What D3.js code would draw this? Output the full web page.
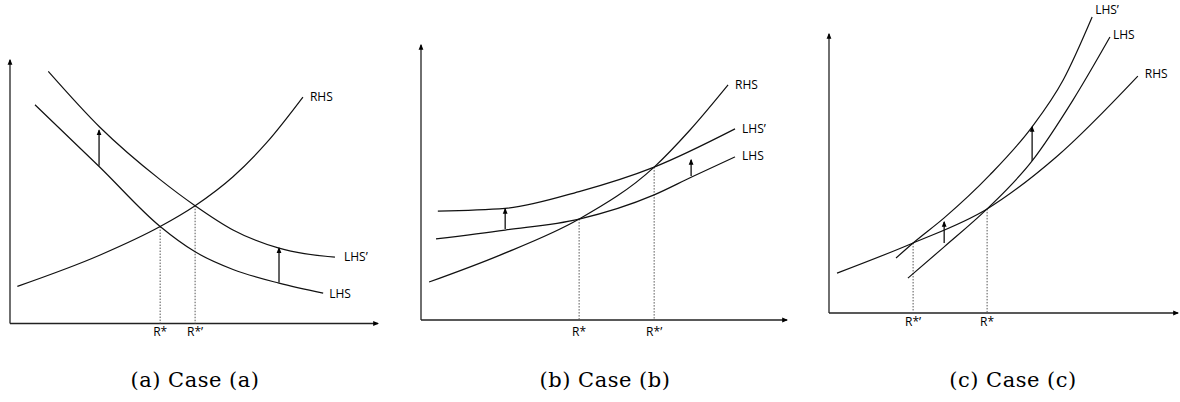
<!DOCTYPE html>
<html>
<head>
<meta charset="utf-8">
<script src="https://cdn.jsdelivr.net/npm/d3@7"></script>
<style>
  body { margin: 0; background: #fff; }
  svg { display: block; }
</style>
</head>
<body>
<svg id="chart" width="1180" height="402"></svg>
<script>
// curve points, in axis units (0-100 each way, origin at the axes corner)
const aRHS  = [[2.0, 14.1], [24.5, 26.0], [40.8, 36.8], [50.3, 44.7], [60.6, 55.7], [69.8, 68.7], [79.6, 85.9]];
const aLHS  = [[6.8, 83.0], [24.5, 59.2], [40.8, 36.8], [50.3, 27.2], [60.6, 20.5], [73.1, 15.3], [85.1, 11.5]];
const aLHS2 = [[10.4, 95.7], [24.5, 74.4], [40.8, 54.6], [50.3, 44.7], [60.6, 35.5], [73.1, 28.6], [80.0, 26.5], [88.3, 25.2]];
const aShifts = [[24.2, 59.9, 73.3], [73.1, 15.6, 28.6]];
const aEq = [[40.8, 36.8, "R*"], [50.3, 44.7, "R*\u2019"]];

const bRHS  = [[2.2, 13.8], [21.6, 23.6], [43.2, 36.7], [63.7, 55.6], [73.5, 69.1], [83.9, 85.5]];
const bLHS2 = [[4.6, 39.6], [23.0, 40.6], [43.2, 46.7], [63.7, 55.6], [85.8, 69.5]];
const bLHS  = [[4.1, 29.5], [23.0, 32.7], [43.2, 36.7], [63.7, 45.5], [73.8, 51.9], [85.8, 59.3]];
const bShifts = [[23.0, 33.1, 40.4], [73.8, 52.4, 58.2]];
const bEq = [[43.2, 36.7, "R*"], [63.7, 55.6, "R*\u2019"]];

const cRHS  = [[2.3, 14.3], [24.1, 25.1], [45.3, 37.3], [65.2, 56.0], [88.5, 84.9]];
const cLHS  = [[22.6, 12.5], [33.0, 23.7], [45.3, 37.3], [58.2, 54.5], [69.9, 76.3], [80.5, 98.9]];
const cLHS2 = [[19.2, 19.7], [24.1, 25.1], [33.0, 34.1], [46.1, 49.5], [58.2, 66.7], [67.1, 83.5], [75.4, 106.1]];
const cShifts = [[33.0, 25.1, 32.6], [58.2, 54.5, 66.7]];
const cEq = [[24.1, 25.1, "R*\u2019"], [45.3, 37.3, "R*"]];

const curveNames = ["RHS", "LHS", "LHS\u2019"];
const captions = ["(a) Case (a)", "(b) Case (b)", "(c) Case (c)"];

// panel frames in pixels, and label nudges
const panels = [
  { left: 10, bottom: 323.5, right: 378, top: 60, cx: 195,
    curves: [aRHS, aLHS, aLHS2], off: [[7, 1], [6, 2], [9, 1]],
    shifts: aShifts, eq: aEq, eqLabelY: 333 },
  { left: 421, bottom: 320, right: 787, top: 45, cx: 605,
    curves: [bRHS, bLHS, bLHS2], off: [[7, 1], [7, 0], [7, 1]],
    shifts: bShifts, eq: bEq, eqLabelY: 333 },
  { left: 829, bottom: 313, right: 1178, top: 34, cx: 1013,
    curves: [cRHS, cLHS, cLHS2], off: [[7, -1], [3, -1], [3, -6]],
    shifts: cShifts, eq: cEq, eqLabelY: 323 }
];

const svg = d3.select("#chart");
const defs = svg.append("defs");

defs.append("marker")
  .attr("id", "head")
  .attr("viewBox", "0 0 10 10")
  .attr("refX", 8).attr("refY", 5)
  .attr("markerUnits", "userSpaceOnUse")
  .attr("markerWidth", 6).attr("markerHeight", 6)
  .attr("orient", "auto")
  .append("path")
  .attr("d", "M0,1 L10,5 L0,9 Z")
  .attr("fill", "#000");

const labelFont = "'Open Sans', 'Liberation Sans', sans-serif";

panels.forEach((p, i) => {
  const x = d3.scaleLinear().domain([0, 100]).range([p.left, p.right]);
  const y = d3.scaleLinear().domain([0, 100]).range([p.bottom, p.top]);
  const g = svg.append("g");

  // axes with arrowheads
  g.append("line")
    .attr("x1", x(0)).attr("y1", y(0))
    .attr("x2", x(100)).attr("y2", y(0))
    .attr("stroke", "#222").attr("stroke-width", 1.3)
    .attr("marker-end", "url(#head)");
  g.append("line")
    .attr("x1", x(0)).attr("y1", y(0))
    .attr("x2", x(0)).attr("y2", y(100))
    .attr("stroke", "#222").attr("stroke-width", 1.3)
    .attr("marker-end", "url(#head)");

  // dotted drop lines to the equilibria
  g.selectAll(".drop")
    .data(p.eq)
    .join("line")
    .attr("x1", d => x(d[0])).attr("x2", d => x(d[0]))
    .attr("y1", d => y(d[1])).attr("y2", y(0))
    .attr("stroke", "#555").attr("stroke-width", 1)
    .attr("stroke-dasharray", "1.5,1.5");

  g.selectAll(".eqlab")
    .data(p.eq)
    .join("text")
    .attr("x", d => x(d[0]))
    .attr("y", p.eqLabelY)
    .attr("text-anchor", "middle")
    .attr("dominant-baseline", "middle")
    .style("font-family", labelFont)
    .style("font-size", "12px")
    .text(d => d[2]);

  const line = d3.line()
    .x(d => x(d[0]))
    .y(d => y(d[1]))
    .curve(d3.curveMonotoneX);

  p.curves.forEach((pts, k) => {
    g.append("path")
      .attr("d", line(pts))
      .attr("fill", "none")
      .attr("stroke", "#111")
      .attr("stroke-width", 1.2);

    const end = pts[pts.length - 1];
    g.append("text")
      .attr("x", x(end[0]) + p.off[k][0])
      .attr("y", y(end[1]) + p.off[k][1])
      .attr("dominant-baseline", "middle")
      .style("font-family", labelFont)
      .style("font-size", "12px")
      .text(curveNames[k]);
  });

  // upward shift arrows
  g.selectAll(".shift")
    .data(p.shifts)
    .join("line")
    .attr("x1", d => x(d[0])).attr("x2", d => x(d[0]))
    .attr("y1", d => y(d[1])).attr("y2", d => y(d[2]))
    .attr("stroke", "#111").attr("stroke-width", 1.3)
    .attr("marker-end", "url(#head)");

  svg.append("text")
    .attr("x", p.cx)
    .attr("y", 387)
    .attr("text-anchor", "middle")
    .style("font-family", "'DejaVu Serif', serif")
    .style("font-size", "21px")
    .style("letter-spacing", "0.5px")
    .text(captions[i]);
});
</script>
</body>
</html>
